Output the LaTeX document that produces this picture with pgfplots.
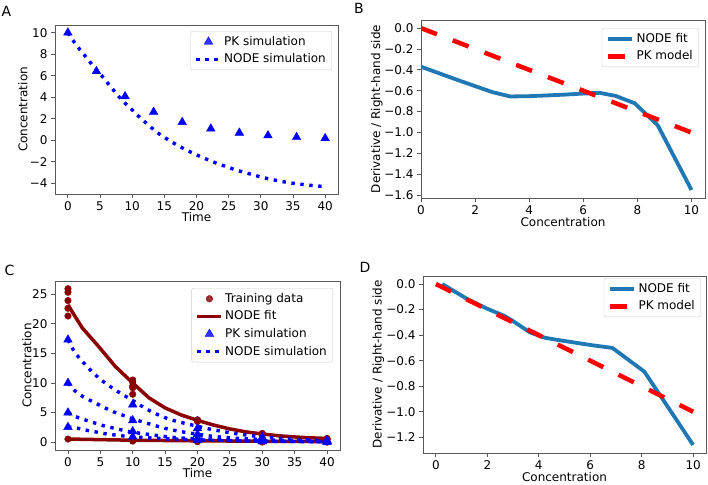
\documentclass[border=0pt]{standalone}
\usepackage{fontspec}
\setmainfont{DejaVu Sans}
\usepackage{pgfplots}
\pgfplotsset{compat=1.18}
\definecolor{tabblue}{HTML}{1F77B4}
\definecolor{dred}{HTML}{8B0000}
\definecolor{spine}{gray}{0.35}
\pgfplotsset{
  panel/.style={
    scale only axis, anchor=south west,
    axis line style={spine, line width=0.8pt},
    tick style={spine, line width=0.8pt},
    tick align=outside, tick pos=left,
    major tick length=4pt,
    font=\fontsize{12}{14}\selectfont,
    ticklabel style={font=\fontsize{12}{14}\selectfont},
    label style={font=\fontsize{12}{14}\selectfont},
    xlabel style={at={(axis description cs:0.5,-0.139)}, anchor=center},
    legend cell align=left,
    legend style={draw=black!20, rounded corners=2pt, fill=white, fill opacity=0.8, text opacity=1,
      font=\fontsize{12}{14}\selectfont, at={(1,1)}, anchor=north east,
      inner xsep=4pt, inner ysep=3pt, row sep=2.5pt, nodes={inner sep=2pt, text depth=0.2em},
      /tikz/every even column/.append style={column sep=6pt}},
    clip mode=individual,
  },
  linelegend/.style={legend image code/.code={\draw[##1] (0pt,0pt) -- (24pt,0pt);}},
  marklegend/.style={legend image code/.code={\path[draw=none, fill=none] (0pt,0pt) (24pt,0pt); \draw[##1] plot coordinates {(12pt,0pt)};}},
  dotline/.style={blue, line width=3.4pt, dash pattern=on 3.4pt off 5.6pt, linelegend},
  pktri/.style={only marks, mark=triangle*, mark size=5pt, color=blue, mark options={fill=blue, draw=blue}, marklegend},
  nodefit/.style={tabblue, line width=3.8pt, line join=round, linelegend},
  pkline/.style={red, line width=4.5pt, dash pattern=on 17pt off 17pt, linelegend},
}
\begin{document}
\begin{tikzpicture}
\useasboundingbox (0,0) rectangle (708pt,-484pt);
\node[anchor=base west, font=\fontsize{14}{16}\selectfont, inner sep=0pt] at (1.5pt,-16.7pt) {A};
\node[anchor=base west, font=\fontsize{14}{16}\selectfont, inner sep=0pt] at (354pt,-14pt) {B};
\node[anchor=base west, font=\fontsize{14}{16}\selectfont, inner sep=0pt] at (4.5pt,-275.3pt) {C};
\node[anchor=base west, font=\fontsize{14}{16}\selectfont, inner sep=0pt] at (359.5pt,-272pt) {D};

% Panel A
\begin{axis}[panel, at={(55pt,-194pt)}, width=283pt, height=169pt,
  xmin=-2, xmax=42, ymin=-5.0, ymax=10.715,
  xtick={0,5,10,15,20,25,30,35,40}, xticklabels={0,5,10,15,20,25,30,35,40},
  ytick={-4,-2,0,2,4,6,8,10}, yticklabels={−4,−2,0,2,4,6,8,10},
  xlabel={Time}, ylabel={Concentration},
  ylabel style={at={(axis description cs:-0.113,0.5)}, anchor=center},
  legend style={xshift=-6pt, yshift=-6pt}]
\addplot[pktri] coordinates {(0,10)(4.444,6.41)(8.889,4.08)(13.333,2.63)(17.778,1.68)(22.222,1.07)(26.667,0.69)(31.111,0.44)(35.556,0.28)(40,0.18)};
\addlegendentry{PK simulation}
\addplot[dotline] coordinates {(0,10)(0.9,9.2)(1.7,8.55)(2.6,7.9)(3.4,7.3)(4.4,6.55)(5.2,6.05)(6,5.45)(6.9,4.8)(7.8,4.15)(8.6,3.6)(9.7,3.0)(10.6,2.45)(11.6,1.9)(12.7,1.33)(13.6,0.85)(14.7,0.38)(16,-0.11)(17.2,-0.52)(18.4,-0.9)(19.6,-1.25)(20.8,-1.57)(22.1,-1.9)(23.3,-2.18)(24.6,-2.45)(26,-2.74)(27.4,-2.99)(28.7,-3.2)(30,-3.42)(31.2,-3.59)(32.6,-3.76)(33.9,-3.9)(35.2,-4.02)(36.6,-4.12)(38,-4.21)(39.3,-4.28)(40,-4.3)};
\addlegendentry{NODE simulation}
\end{axis}

% Panel B
\begin{axis}[panel, at={(421pt,-198pt)}, width=284pt, height=178pt,
  xmin=0, xmax=10.5, ymin=-1.6275, ymax=0.0775,
  xtick={0,2,4,6,8,10}, xticklabels={0,2,4,6,8,10},
  ytick={-1.6,-1.4,-1.2,-1.0,-0.8,-0.6,-0.4,-0.2,0}, yticklabels={−1.6,−1.4,−1.2,−1.0,−0.8,−0.6,−0.4,−0.2,0.0},
  xlabel={Concentration}, ylabel={Derivative / Right-hand side},
  xlabel style={at={(axis description cs:0.5,-0.133)}},
  ylabel style={at={(axis description cs:-0.156,0.5)}, anchor=center},
  legend style={xshift=-6pt, yshift=-8pt}]
\addplot[nodefit] coordinates {(0,-0.37)(0.66,-0.432)(1.33,-0.495)(2,-0.556)(2.66,-0.615)(3.3,-0.655)(4,-0.652)(4.66,-0.645)(5.33,-0.637)(6,-0.627)(6.6,-0.62)(7.2,-0.65)(7.9,-0.72)(8.75,-0.93)(10,-1.55)};
\addlegendentry{NODE fit}
\addplot[pkline] coordinates {(0,0)(10,-1)};
\addlegendentry{PK model}
\end{axis}

% Panel C
\begin{axis}[panel, at={(55pt,-450pt)}, width=285pt, height=169pt,
  xmin=-2, xmax=42, ymin=-1.3, ymax=27.2,
  xtick={0,5,10,15,20,25,30,35,40}, xticklabels={0,5,10,15,20,25,30,35,40},
  ytick={0,5,10,15,20,25}, yticklabels={0,5,10,15,20,25},
  xlabel={Time}, ylabel={Concentration},
  ylabel style={at={(axis description cs:-0.099,0.5)}, anchor=center},
  legend style={xshift=-7pt, yshift=-7pt}]
\addplot[only marks, mark=*, mark size=3.3pt, color=dred, marklegend] coordinates {
  (0,25.9)(0,25.3)(0,23.9)(0,22.6)(0,21.3)(0,0.55)
  (10,10.5)(10,10.1)(10,9.5)(10,9.2)(10,8.1)(10,0.2)
  (20,3.8)(20,3.65)(20,3.5)(20,0.1)
  (30,1.5)(30,1.35)(30,1.2)(30,0.05)
  (40,0.65)(40,0.55)(40,0.45)(40,0.02)};
\addlegendentry{Training data}
\addplot[dred, line width=3.5pt, line join=round, linelegend] coordinates {(0,23.2)(1,21.4)(2.2,19.3)(4.7,16.2)(7.3,12.8)(10,10.0)(12.5,7.5)(15,5.8)(17.5,4.6)(20,3.7)(22.5,2.9)(25,2.25)(27.5,1.75)(30,1.4)(32.5,1.1)(35,0.9)(37.5,0.75)(40,0.65)};
\addlegendentry{NODE fit}
\addplot[dred, line width=3.5pt, forget plot] coordinates {(0,0.55)(10,0.35)(20,0.25)(30,0.18)(40,0.12)};
\addplot[pktri] coordinates {
  (0,17.3)(0,10)(0,5)(0,2.55)
  (10,6.35)(10,3.68)(10,1.84)(10,0.94)
  (20,2.34)(20,1.35)(20,0.68)(20,0.35)
  (30,0.86)(30,0.5)(30,0.25)(30,0.13)
  (40,0.32)(40,0.18)(40,0.09)(40,0.05)};
\addlegendentry{PK simulation}
\addplot[dotline] coordinates {(0,17.3)(1,15.2)(2,13.9)(3,12.7)(4,11.6)(5,10.6)(6,9.8)(7,9.05)(8,8.35)(9,7.7)(10,7.05)(11,6.35)(12,5.7)(13,5.1)(14,4.6)(15,4.15)(16,3.75)(18,3.2)(20,2.7)(22,2.2)(24,1.8)(26,1.45)(28,1.15)(30,0.9)(32,0.7)(34,0.55)(36,0.45)(38,0.36)(40,0.3)};
\addlegendentry{NODE simulation}
\addplot[dotline, forget plot] coordinates {(0,10)(1,8.75)(2,7.9)(3,7.3)(4,6.75)(5,6.2)(6,5.65)(7,5.15)(8,4.75)(9,4.35)(10,3.95)(11,3.62)(12,3.3)(13,2.95)(14,2.65)(15,2.35)(16,2.1)(18,1.7)(20,1.35)(22,1.05)(24,0.85)(26,0.68)(28,0.55)(30,0.45)(34,0.3)(40,0.18)};
\addplot[dotline, forget plot] coordinates {(0,5)(1,4.4)(2,4.0)(3,3.65)(4,3.3)(5,2.95)(6,2.65)(7,2.4)(8,2.15)(9,1.9)(10,1.7)(12,1.4)(14,1.1)(16,0.85)(18,0.7)(20,0.55)(25,0.35)(30,0.22)(35,0.15)(40,0.1)};
\addplot[dotline, forget plot] coordinates {(0,2.6)(1.4,2.4)(3,2.0)(4.4,1.73)(6.2,1.35)(7.8,1.18)(9.3,0.95)(12,0.78)(15,0.6)(20,0.4)(25,0.28)(30,0.18)(40,0.08)};
\end{axis}

% Panel D
\begin{axis}[panel, at={(423pt,-453pt)}, width=283pt, height=177pt,
  xmin=-0.5, xmax=10.5, ymin=-1.323, ymax=0.063,
  xtick={0,2,4,6,8,10}, xticklabels={0,2,4,6,8,10},
  ytick={-1.2,-1.0,-0.8,-0.6,-0.4,-0.2,0}, yticklabels={−1.2,−1.0,−0.8,−0.6,−0.4,−0.2,0.0},
  xlabel={Concentration}, ylabel={Derivative / Right-hand side},
  xlabel style={at={(axis description cs:0.5,-0.133)}},
  ylabel style={at={(axis description cs:-0.158,0.5)}, anchor=center},
  legend style={xshift=-5pt, yshift=-2pt}]
\addplot[nodefit] coordinates {(0.25,0)(1.24,-0.12)(1.96,-0.19)(2.67,-0.25)(3.0,-0.29)(3.65,-0.378)(4.23,-0.42)(4.68,-0.436)(5.45,-0.46)(6.1,-0.48)(6.86,-0.5)(8.1,-0.685)(8.7,-0.866)(10,-1.26)};
\addlegendentry{NODE fit}
\addplot[pkline] coordinates {(0,0)(10,-1)};
\addlegendentry{PK model}
\end{axis}
\end{tikzpicture}
\end{document}
